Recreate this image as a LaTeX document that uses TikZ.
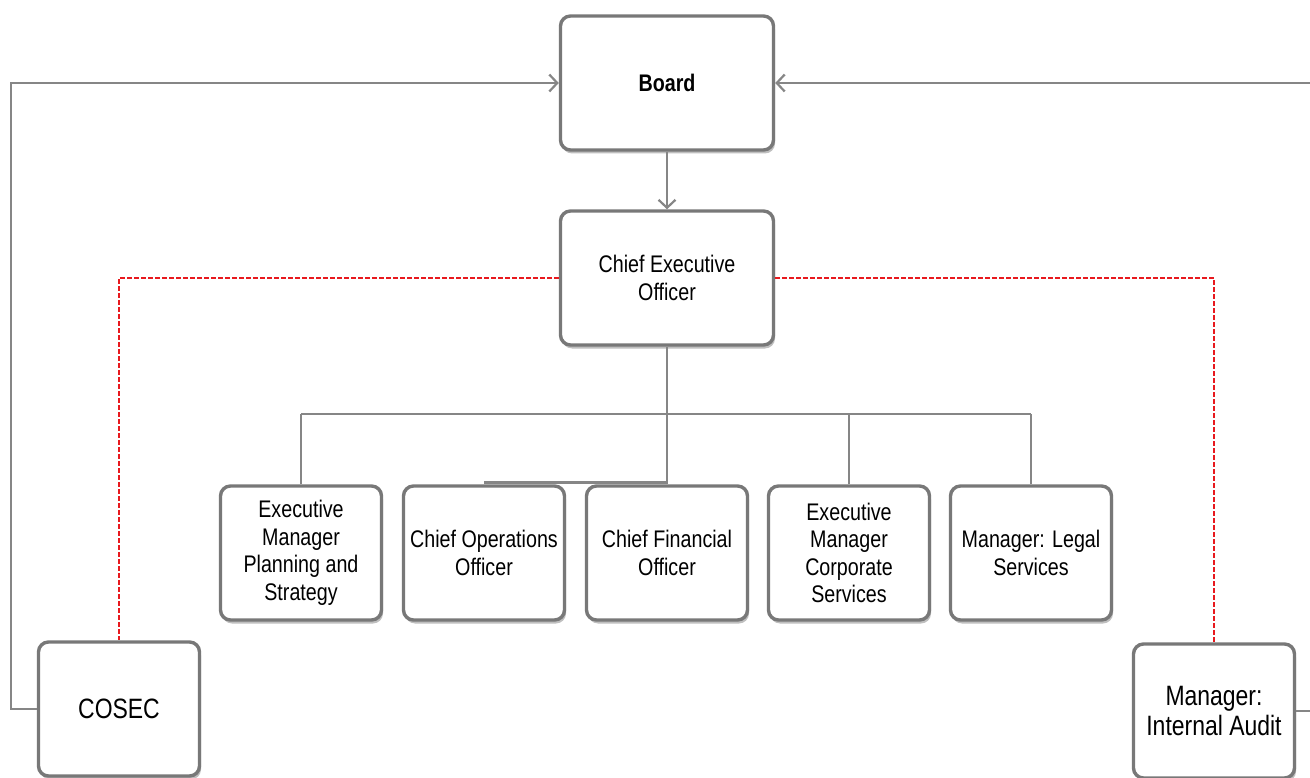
\documentclass[tikz,border=0pt]{standalone}
\usepackage{fontspec}
\setmainfont{Liberation Sans}[FakeStretch=0.82]
\usetikzlibrary{arrows.meta,shadows}
\definecolor{boxgray}{HTML}{787878}
\definecolor{linegray}{HTML}{868686}
\definecolor{dashred}{HTML}{E8191E}
\begin{document}
\begin{tikzpicture}[x=1pt,y=-1pt,
  orgbox/.style={draw=boxgray, line width=3.4pt, rounded corners=10pt, fill=white,
    align=flush center, font=\fontsize{24}{27.5}\selectfont, inner sep=2pt,
    drop shadow={shadow xshift=1.5pt, shadow yshift=-3.5pt, opacity=0.25, fill=black}},
  bigbox/.style={orgbox, minimum width=213pt, minimum height=134pt, text width=200pt},
  smallbox/.style={orgbox, minimum width=161pt, minimum height=134pt, text width=156pt},
  bigtext/.style={font=\fontsize{28}{30}\selectfont},
  conn/.style={draw=linegray, line width=2.9pt},
  reddash/.style={draw=dashred, line width=2.5pt, dash pattern=on 4.5pt off 2.5pt},
  tip/.style={-{Straight Barb[length=8pt,width=17pt,line width=2.2pt]}}
]
\useasboundingbox (0,0) rectangle (1310,778);
\clip (0,0) rectangle (1310,778);
\fill[white] (0,0) rectangle (1310,778);

\node[bigbox, font=\bfseries\fontsize{24}{27.5}\selectfont] (board) at (667,83) {Board};
\node[bigbox] (ceo) at (667,278) {Chief Executive\\Officer};

\node[smallbox] (emps) at (301,553) {Executive\\Manager\\Planning and\\Strategy};
\node[smallbox] (coo) at (484,553) {Chief Operations\\Officer};
\node[smallbox] (cfo) at (667,553) {Chief Financial\\Officer};
\node[smallbox] (emcs) at (849,553) {Executive\\Manager\\Corporate\\Services};
\node[smallbox] (mls) at (1031,553) {Manager: Legal\\Services};

\node[smallbox, bigtext] (cosec) at (119,709) {COSEC};
\node[smallbox, bigtext] (ia) at (1214,711) {Manager:\\Internal Audit};

\coordinate (bus) at (667,414);
\coordinate (lft) at (11,0);
\coordinate (rgt) at (1320,0);

% Board to CEO
\draw[conn, tip] (board.south) -- (ceo.north);

% tree
\draw[conn] (ceo.south) -- (bus);
\draw[conn] (emps.north |- bus) -- (mls.north |- bus);
\draw[conn] (emps.north) -- (emps.north |- bus);
\draw[conn] (cfo.north) -- (cfo.north |- bus);
\draw[conn] (emcs.north) -- (emcs.north |- bus);
\draw[conn] (mls.north) -- (mls.north |- bus);
\draw[conn] ([yshift=2pt]coo.north) -- ([yshift=2pt]cfo.north);

% reporting lines to board
\draw[conn, tip] (cosec.west) -- (lft |- cosec.west) |- (board.west);
\draw[conn, tip] (ia.east) -- (rgt |- ia.east) |- (board.east);

% dashed lines
\draw[reddash] (ceo.west) -| (cosec.north);
\draw[reddash] (ceo.east) -| (ia.north);
\end{tikzpicture}
\end{document}
